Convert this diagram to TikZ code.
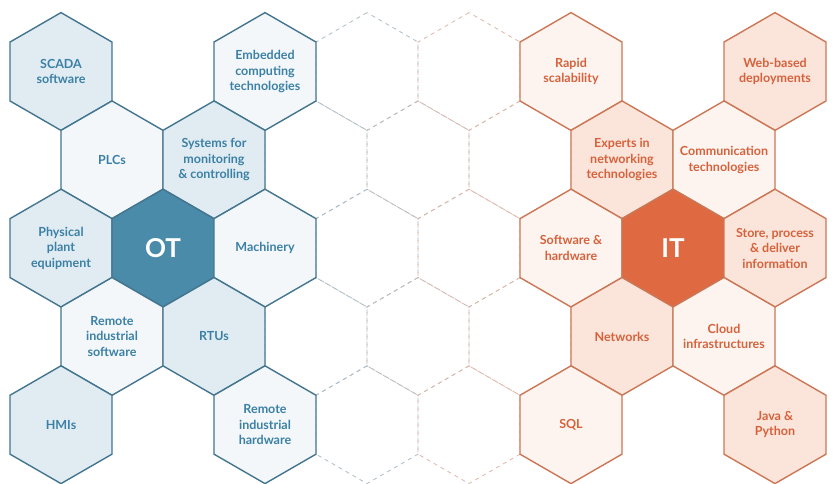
\documentclass[tikz,border=0pt]{standalone}
\usepackage{fontspec}
\setmainfont{Lato}
\usepackage{tikz}
\usetikzlibrary{shapes.geometric}
\definecolor{otcore}{HTML}{4A8BAA}
\definecolor{otline}{HTML}{44758F}
\definecolor{ottext}{HTML}{3B80A6}
\definecolor{otshade}{HTML}{E1ECF2}
\definecolor{otpale}{HTML}{F3F7FA}
\definecolor{itcore}{HTML}{DF6A42}
\definecolor{itline}{HTML}{CB7756}
\definecolor{ittext}{HTML}{D6623C}
\definecolor{itshade}{HTML}{FBE4DA}
\definecolor{itpale}{HTML}{FDF4F0}
\definecolor{gapot}{HTML}{AEBCC5}
\definecolor{gapmid}{HTML}{C4B9B6}
\definecolor{gapit}{HTML}{DDB7AA}

\begin{document}
\begin{tikzpicture}[
x=51pt, y=-88.3pt, line width=1.4pt,
hexcell/.style = {regular polygon, regular polygon sides=6, shape border rotate=30,
  minimum size=117.8pt, inner sep=-12pt, outer sep=0pt, align=center},
otcell/.style={hexcell, draw=otline, fill=otpale, text=ottext},
otshaded/.style={otcell, fill=otshade},
itcell/.style={hexcell, draw=itline, fill=itpale, text=ittext},
itshaded/.style={itcell, fill=itshade},
corecell/.style={hexcell, text=white, font=\bfseries\fontsize{26}{28}\selectfont},
gapcell/.style={hexcell, draw, line width=0.8pt, dash pattern=on 4pt off 4pt}]
\tikzstyle{every node}=[font=\bfseries\fontsize{12.5}{15.5}\selectfont]
\path[fill=white, use as bounding box] (-61pt,71.5pt) rectangle (776pt,-411.5pt);
% empty cells between the two groups
\node[gapcell, draw=gapot] (g1) at (6,0) {};
\node[gapcell, draw=gapit] (g2) at (8,0) {};
\node[gapcell, draw=gapot] (g3) at (5,1) {};
\node[gapcell, draw=gapmid] (g4) at (7,1) {};
\node[gapcell, draw=gapit] (g5) at (9,1) {};
\node[gapcell, draw=gapot] (g6) at (6,2) {};
\node[gapcell, draw=gapit] (g7) at (8,2) {};
\node[gapcell, draw=gapot] (g8) at (5,3) {};
\node[gapcell, draw=gapmid] (g9) at (7,3) {};
\node[gapcell, draw=gapit] (g10) at (9,3) {};
\node[gapcell, draw=gapot] (g11) at (6,4) {};
\node[gapcell, draw=gapit] (g12) at (8,4) {};
% OT
\node[otshaded] (scada) at (0,0) {SCADA\\software};
\node[otcell] (embedded) at (4,0) {Embedded\\computing\\technologies};
\node[otcell] (plc) at (1,1) {PLCs};
\node[otshaded] (monitor) at (3,1) {Systems for\\monitoring\\\& controlling};
\node[otshaded] (plant) at (0,2) {Physical\\plant\\equipment};
\node[corecell, draw=otline, fill=otcore] (ot) at (2,2) {OT};
\node[otcell] (machinery) at (4,2) {Machinery};
\node[otcell] (remotesw) at (1,3) {Remote\\industrial\\software};
\node[otshaded] (rtu) at (3,3) {RTUs};
\node[otshaded] (hmi) at (0,4) {HMIs};
\node[otcell] (remotehw) at (4,4) {Remote\\industrial\\hardware};
% IT
\node[itcell] (scalability) at (10,0) {Rapid\\scalability};
\node[itshaded] (webbased) at (14,0) {Web-based\\deployments};
\node[itshaded] (experts) at (11,1) {Experts in\\networking\\technologies};
\node[itcell] (comms) at (13,1) {Communication\\technologies};
\node[itcell] (swhw) at (10,2) {Software \&\\hardware};
\node[corecell, draw=itline, fill=itcore] (it) at (12,2) {IT};
\node[itshaded] (store) at (14,2) {Store, process\\\& deliver\\information};
\node[itshaded] (networks) at (11,3) {Networks};
\node[itcell] (cloud) at (13,3) {Cloud\\infrastructures};
\node[itcell] (sql) at (10,4) {SQL};
\node[itshaded] (java) at (14,4) {Java \&\\Python};
\end{tikzpicture}
\end{document}
